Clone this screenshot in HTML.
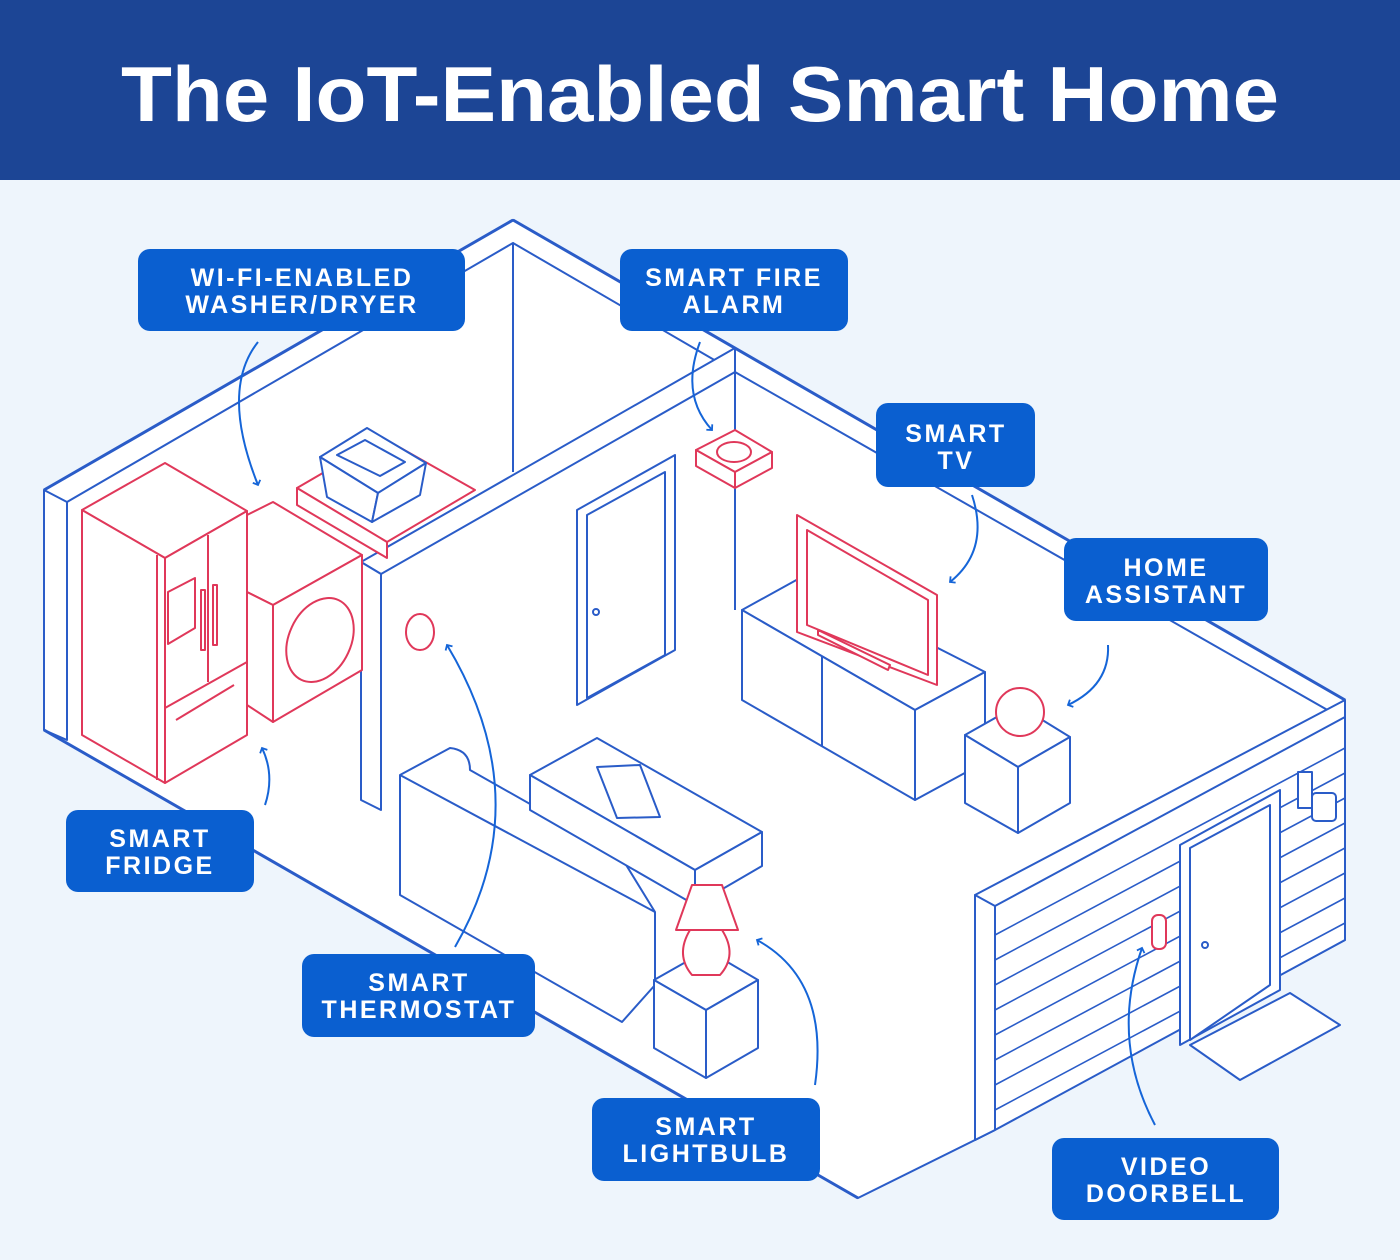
<!DOCTYPE html>
<html><head><meta charset="utf-8"><style>
html,body{margin:0;padding:0;width:1400px;height:1260px;overflow:hidden;background:#eef5fc;font-family:"Liberation Sans",sans-serif}
</style></head><body>
<svg width="1400" height="1260" viewBox="0 0 1400 1260" xmlns="http://www.w3.org/2000/svg">
<defs>
<marker id="ah" viewBox="0 0 10 10" refX="5" refY="5" markerWidth="5" markerHeight="5" orient="auto-start-reverse"><path d="M1,1 L5,5 L1,9" fill="none" stroke="#1565d8" stroke-width="1.8"/></marker>
</defs>
<rect x="0" y="0" width="1400" height="180" fill="#1c4595"/>
<text x="700" y="121" text-anchor="middle" font-family="Liberation Sans" font-weight="bold" font-size="78" fill="#fff" textLength="1158" lengthAdjust="spacingAndGlyphs">The IoT-Enabled Smart Home</text>

<g fill="#fff" stroke="#2a5cc8" stroke-width="2" stroke-linejoin="round">
<polygon points="44,490 513,220 1345,700 1345,940 975,1140 858,1198 44,730"/>
<polygon points="44,490 67,502 67,740 44,730"/>
<polyline points="67,502 513,243 513,472" fill="none"/>
<line x1="44" y1="730" x2="858" y2="1198" stroke-width="3"/>
<line x1="44" y1="490" x2="513" y2="220" stroke-width="3"/>
<line x1="513" y1="220" x2="1345" y2="700" stroke-width="3"/>
<line x1="513" y1="243" x2="735" y2="372" fill="none"/>
<polyline points="735,372 1345,720" fill="none"/>
<line x1="735" y1="372" x2="735" y2="610"/>
<polygon points="361,562 735,348 735,372 381,574"/>
<polygon points="361,562 381,574 381,810 361,800"/>
<polygon points="975,895 1345,700 1345,940 995,1130 975,1140"/>
<polygon points="975,895 995,906 995,1130 975,1140"/>
<line x1="995" y1="906" x2="1345" y2="717"/>
<g stroke-width="1.6">
<line x1="995" y1="935" x2="1345" y2="748"/>
<line x1="995" y1="960" x2="1345" y2="773"/>
<line x1="995" y1="985" x2="1345" y2="798"/>
<line x1="995" y1="1010" x2="1345" y2="823"/>
<line x1="995" y1="1035" x2="1345" y2="848"/>
<line x1="995" y1="1060" x2="1345" y2="873"/>
<line x1="995" y1="1085" x2="1345" y2="898"/>
<line x1="995" y1="1110" x2="1345" y2="923"/>
</g>
<polygon points="1180,845 1280,790 1280,990 1180,1045"/>
<polygon points="1190,848 1270,805 1270,985 1190,1040"/>
<circle cx="1205" cy="945" r="3"/>
<polygon points="1190,1045 1290,993 1340,1025 1240,1080"/>
<rect x="1298" y="772" width="14" height="36"/>
<rect x="1312" y="793" width="24" height="28" rx="4"/>
<polygon points="577,510 675,455 675,650 577,705"/>
<polygon points="587,515 665,472 665,655 587,698"/>
<circle cx="596" cy="612" r="3"/>
<polygon points="742,610 800,578 985,672 915,710"/>
<polygon points="742,610 915,710 915,800 742,700"/>
<polygon points="915,710 985,672 985,762 915,800"/>
<line x1="822" y1="656" x2="822" y2="746"/>
<polygon points="965,735 1018,705 1070,737 1018,767"/>
<polygon points="965,735 1018,767 1018,833 965,803"/>
<polygon points="1018,767 1070,737 1070,803 1018,833"/>
<path d="M400,775 L450,748 Q470,750 470,770 L620,855 L655,912 L655,985 L622,1022 L400,895 Z"/>
<line x1="400" y1="775" x2="655" y2="912"/>
<polygon points="530,775 597,738 762,832 695,870"/>
<polygon points="530,775 695,870 695,905 530,810"/>
<polygon points="695,870 762,832 762,866 695,905"/>
<polygon points="597,767 640,765 660,817 617,818"/>
<polygon points="654,980 707,950 758,980 706,1010"/>
<polygon points="654,980 706,1010 706,1078 654,1048"/>
<polygon points="706,1010 758,980 758,1048 706,1078"/>
</g>

<g fill="#fff" stroke="#e0385a" stroke-width="2" stroke-linejoin="round">
<polygon points="297,488 383,438 475,490 387,542"/>
<polygon points="297,488 387,542 387,558 297,505"/>
<polygon points="247,515 273,502 362,555 273,605 247,592"/>
<polygon points="273,605 362,555 362,670 273,722"/>
<polygon points="247,592 273,605 273,722 247,705"/>
<ellipse cx="320" cy="640" rx="31" ry="44" transform="rotate(25 320 640)"/>
<polygon points="82,510 165,463 247,511 165,558"/>
<polygon points="82,510 165,558 165,783 82,735"/>
<polygon points="165,558 247,511 247,735 165,783"/>
<line x1="157" y1="555" x2="157" y2="780"/>
<line x1="208" y1="535" x2="208" y2="682"/>
<line x1="165" y1="708" x2="247" y2="662"/>
<polygon points="168,592 195,578 195,628 168,644"/>
<rect x="201" y="590" width="4" height="60"/>
<rect x="213" y="585" width="4" height="60"/>
<line x1="176" y1="720" x2="234" y2="685"/>
<polygon points="797,515 937,595 937,685 797,632"/>
<polygon points="807,530 928,600 928,675 807,625"/>
<polygon points="818,630 890,665 888,670 818,635"/>
<polygon points="696,450 735,430 772,452 735,472"/>
<polygon points="696,450 735,472 735,488 696,466"/>
<polygon points="735,472 772,452 772,468 735,488"/>
<ellipse cx="734" cy="452" rx="17" ry="10"/>
<ellipse cx="420" cy="632" rx="14" ry="18"/>
<circle cx="1020" cy="712" r="24"/>
<rect x="1152" y="915" width="14" height="34" rx="6"/>
<path d="M692,885 L722,885 L738,930 L676,930 Z"/>
<path d="M690,930 Q675,955 692,975 L720,975 Q738,955 722,930 Z"/>
</g>
<g fill="#fff" stroke="#2a5cc8" stroke-width="2" stroke-linejoin="round">
<polygon points="320,457 367,428 426,463 378,493"/>
<polygon points="320,457 378,493 372,522 327,497"/>
<polygon points="378,493 426,463 420,495 372,522"/>
<polygon points="337,455 365,440 405,462 380,476"/>
</g>

<g fill="none" stroke="#1565d8" stroke-width="2" marker-end="url(#ah)">
<path d="M258,342 Q220,390 258,485"/>
<path d="M700,342 Q680,395 712,430"/>
<path d="M972,495 Q990,550 950,582"/>
<path d="M1108,645 Q1110,685 1068,705"/>
<path d="M265,805 Q275,775 262,748"/>
<path d="M455,947 Q540,800 447,645"/>
<path d="M815,1085 Q830,980 757,940"/>
<path d="M1155,1125 Q1110,1040 1142,948"/>
</g>

<g font-family="Liberation Sans" font-weight="bold" font-size="25" fill="#fff" text-anchor="middle" letter-spacing="2.5">
<rect x="138" y="249" width="327" height="82" rx="12" fill="#0a5fd0"/>
<text x="302" y="286">WI-FI-ENABLED</text><text x="302" y="313">WASHER/DRYER</text>
<rect x="620" y="249" width="228" height="82" rx="12" fill="#0a5fd0"/>
<text x="734" y="286">SMART FIRE</text><text x="734" y="313">ALARM</text>
<rect x="876" y="403" width="159" height="84" rx="12" fill="#0a5fd0"/>
<text x="956" y="442">SMART</text><text x="956" y="469">TV</text>
<rect x="1064" y="538" width="204" height="83" rx="12" fill="#0a5fd0"/>
<text x="1166" y="576">HOME</text><text x="1166" y="603">ASSISTANT</text>
<rect x="66" y="810" width="188" height="82" rx="12" fill="#0a5fd0"/>
<text x="160" y="847">SMART</text><text x="160" y="874">FRIDGE</text>
<rect x="302" y="954" width="233" height="83" rx="12" fill="#0a5fd0"/>
<text x="419" y="991">SMART</text><text x="419" y="1018">THERMOSTAT</text>
<rect x="592" y="1098" width="228" height="83" rx="12" fill="#0a5fd0"/>
<text x="706" y="1135">SMART</text><text x="706" y="1162">LIGHTBULB</text>
<rect x="1052" y="1138" width="227" height="82" rx="12" fill="#0a5fd0"/>
<text x="1166" y="1175">VIDEO</text><text x="1166" y="1202">DOORBELL</text>
</g>
</svg>
</body></html>
